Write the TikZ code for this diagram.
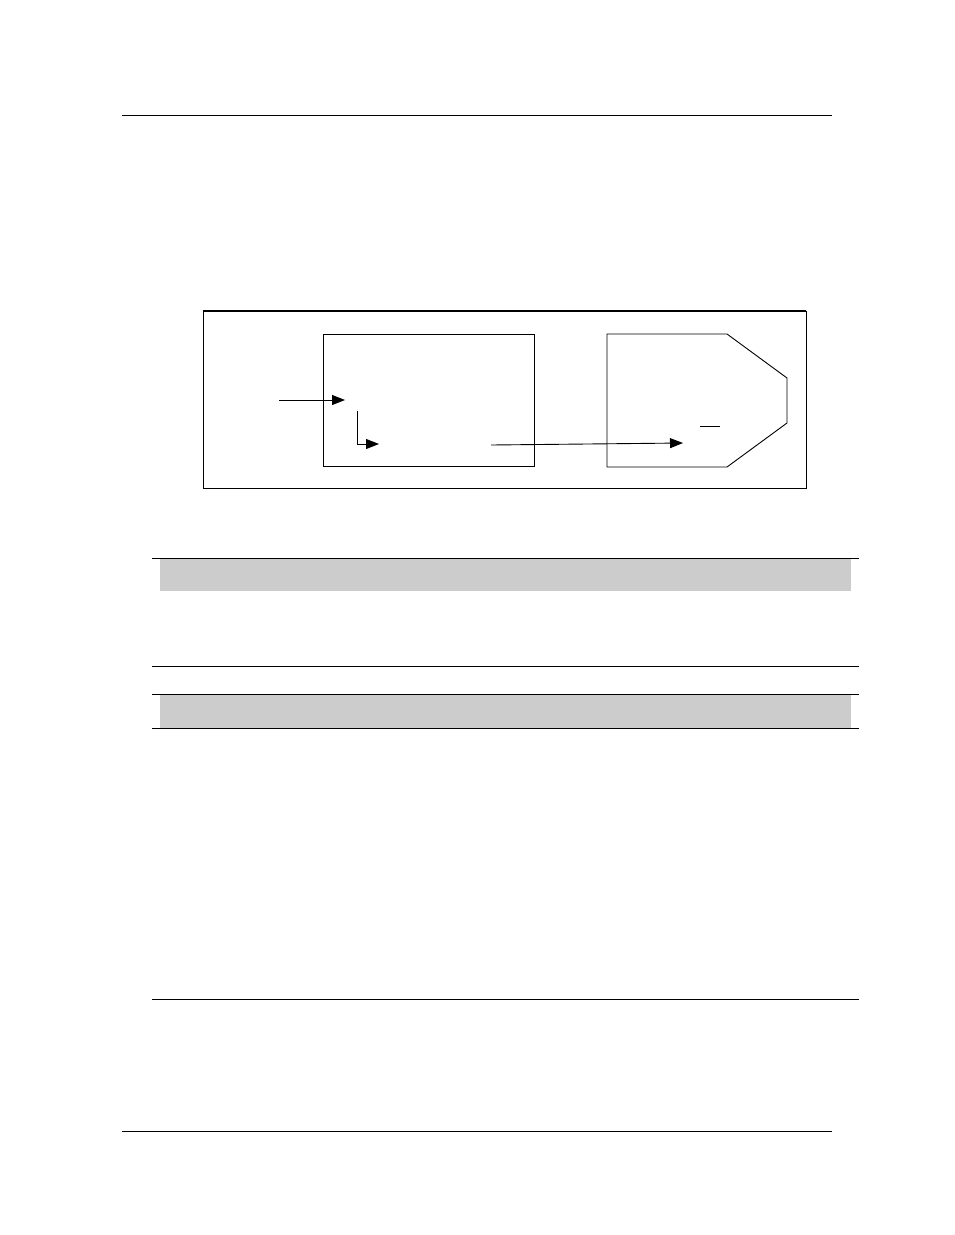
\documentclass[tikz,border=0pt]{standalone}
\usetikzlibrary{arrows.meta}
\begin{document}
\begin{tikzpicture}[x=1pt,y=-1pt,
  rule/.style={line width=0.9pt},
  shaded/.style={fill=black!20,draw=none},
  arr/.style={line width=0.9pt,-{Triangle[length=13pt,width=10pt]}},
  frame/.style={draw,line width=0.9pt}]
\useasboundingbox (0,0) rectangle (954,1235);
% page rules
\draw[rule] (122,115) -- (832,115);
\draw[rule] (122,1131) -- (832,1131);
% outer frame
\draw[frame] (203,311) rectangle (806,488);
\draw[line width=1.6pt] (203,311) -- (806,311);
% inner box
\node[frame,minimum width=211pt,minimum height=132pt,inner sep=0pt,anchor=north west,line width=1.3pt] (box) at (323,334) {};
% pentagon
\draw[frame] (607,334) -- (727,334) -- (787,378) -- (787,423) -- (727,467) -- (607,467) -- cycle;
\coordinate (pent) at (697,400);
% arrows
\coordinate (a1s) at (279,400);
\coordinate (a1e) at (345,400);
\draw[arr] (a1s) -- (a1e);
\coordinate (lstart) at (357,411);
\coordinate (lcorner) at (357,444);
\coordinate (lend) at (379,444);
\draw[arr] (lstart) -- (lcorner) -- (lend);
\coordinate (a2s) at (491,445);
\coordinate (a2e) at (683,443);
\draw[arr] (a2s) -- (a2e);
\coordinate (d1) at (700,426);
\coordinate (d2) at (720,426);
\draw[line width=0.9pt] (d1) -- (d2);
% tables
\fill[shaded] (160,559) rectangle (851,591);
\draw[rule] (152,558) -- (859,558);
\draw[rule] (152,666) -- (859,666);
\draw[rule] (152,694) -- (859,694);
\fill[shaded] (160,695) rectangle (851,728);
\draw[rule] (152,728) -- (859,728);
\draw[rule] (152,999) -- (859,999);
\end{tikzpicture}
\end{document}
